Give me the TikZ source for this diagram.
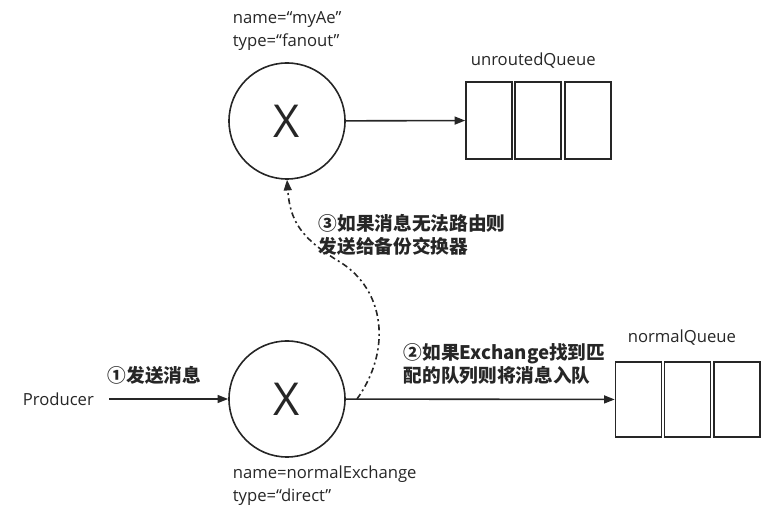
\documentclass[tikz,border=0pt]{standalone}
\usepackage{fontspec}
\setmainfont{Open Sans}
\newfontfamily\cjk{Noto Sans CJK SC}
\usetikzlibrary{arrows.meta}
\definecolor{inkgray}{HTML}{262626}
\begin{document}
\begin{tikzpicture}[x=0.75pt,y=-0.75pt,
  line width=1.2pt, draw=inkgray, text=inkgray,
  >={Triangle[length=8pt,width=6pt]},
  exch/.style={draw, circle, inner sep=0pt, minimum size=87pt, font=\fontsize{34}{34}\selectfont},
  cell/.style={draw, inner sep=0pt, minimum width=34.5pt},
  plain/.style={anchor=west, inner sep=0pt, align=left, font=\fontsize{12.5}{17}\selectfont},
  note/.style={anchor=west, inner sep=0pt, align=left, font=\cjk\bfseries\fontsize{14}{17}\selectfont}]
\useasboundingbox (0,0) rectangle (779,516);

% top exchange and its queue
\node[exch] (tx) at (287,121) {X};
\node[plain] (txname) at (232,31) {name=“myAe”\\type=“fanout”};
\node[cell, minimum height=57.5pt] (uq1) at (489,120.5) {};
\node[cell, minimum height=57.5pt] (uq2) at (538,120.5) {};
\node[cell, minimum height=57.5pt] (uq3) at (588,120.5) {};
\node[plain] (uqname) at (470,61) {unroutedQueue};

% bottom exchange and its queue
\node[plain] (prod) at (22,399) {Producer};
\node[exch] (bx) at (287,399) {X};
\node[plain] (bxname) at (232,486) {name=normalExchange\\type=“direct”};
\node[cell, minimum height=56pt] (nq1) at (638.5,399.5) {};
\node[cell, minimum height=56pt] (nq2) at (687.5,399.5) {};
\node[cell, minimum height=56pt] (nq3) at (737,399.5) {};
\node[plain] (nqname) at (627,338) {normalQueue};

% step labels
\node[note] (send) at (107,375) {①发送消息};
\node[note] (route) at (403,364) {②如果Exchange找到匹\\配的队列则将消息入队};
\node[note] (backup) at (318,235) {③如果消息无法路由则\\发送给备份交换器};

\coordinate (fork) at (357,399);

\draw[->] (tx) -- (uq1);
\draw[->, shorten <=11pt] (prod) -- (bx);
\draw[->] (bx) -- (nq1);
\draw[->, dash pattern=on 4.5pt off 2.5pt on 1.5pt off 2.5pt]
  (fork) .. controls (392,350) and (385,290) .. (340,262)
         .. controls (300,238) and (290,220) .. (tx.south);
\end{tikzpicture}
\end{document}
